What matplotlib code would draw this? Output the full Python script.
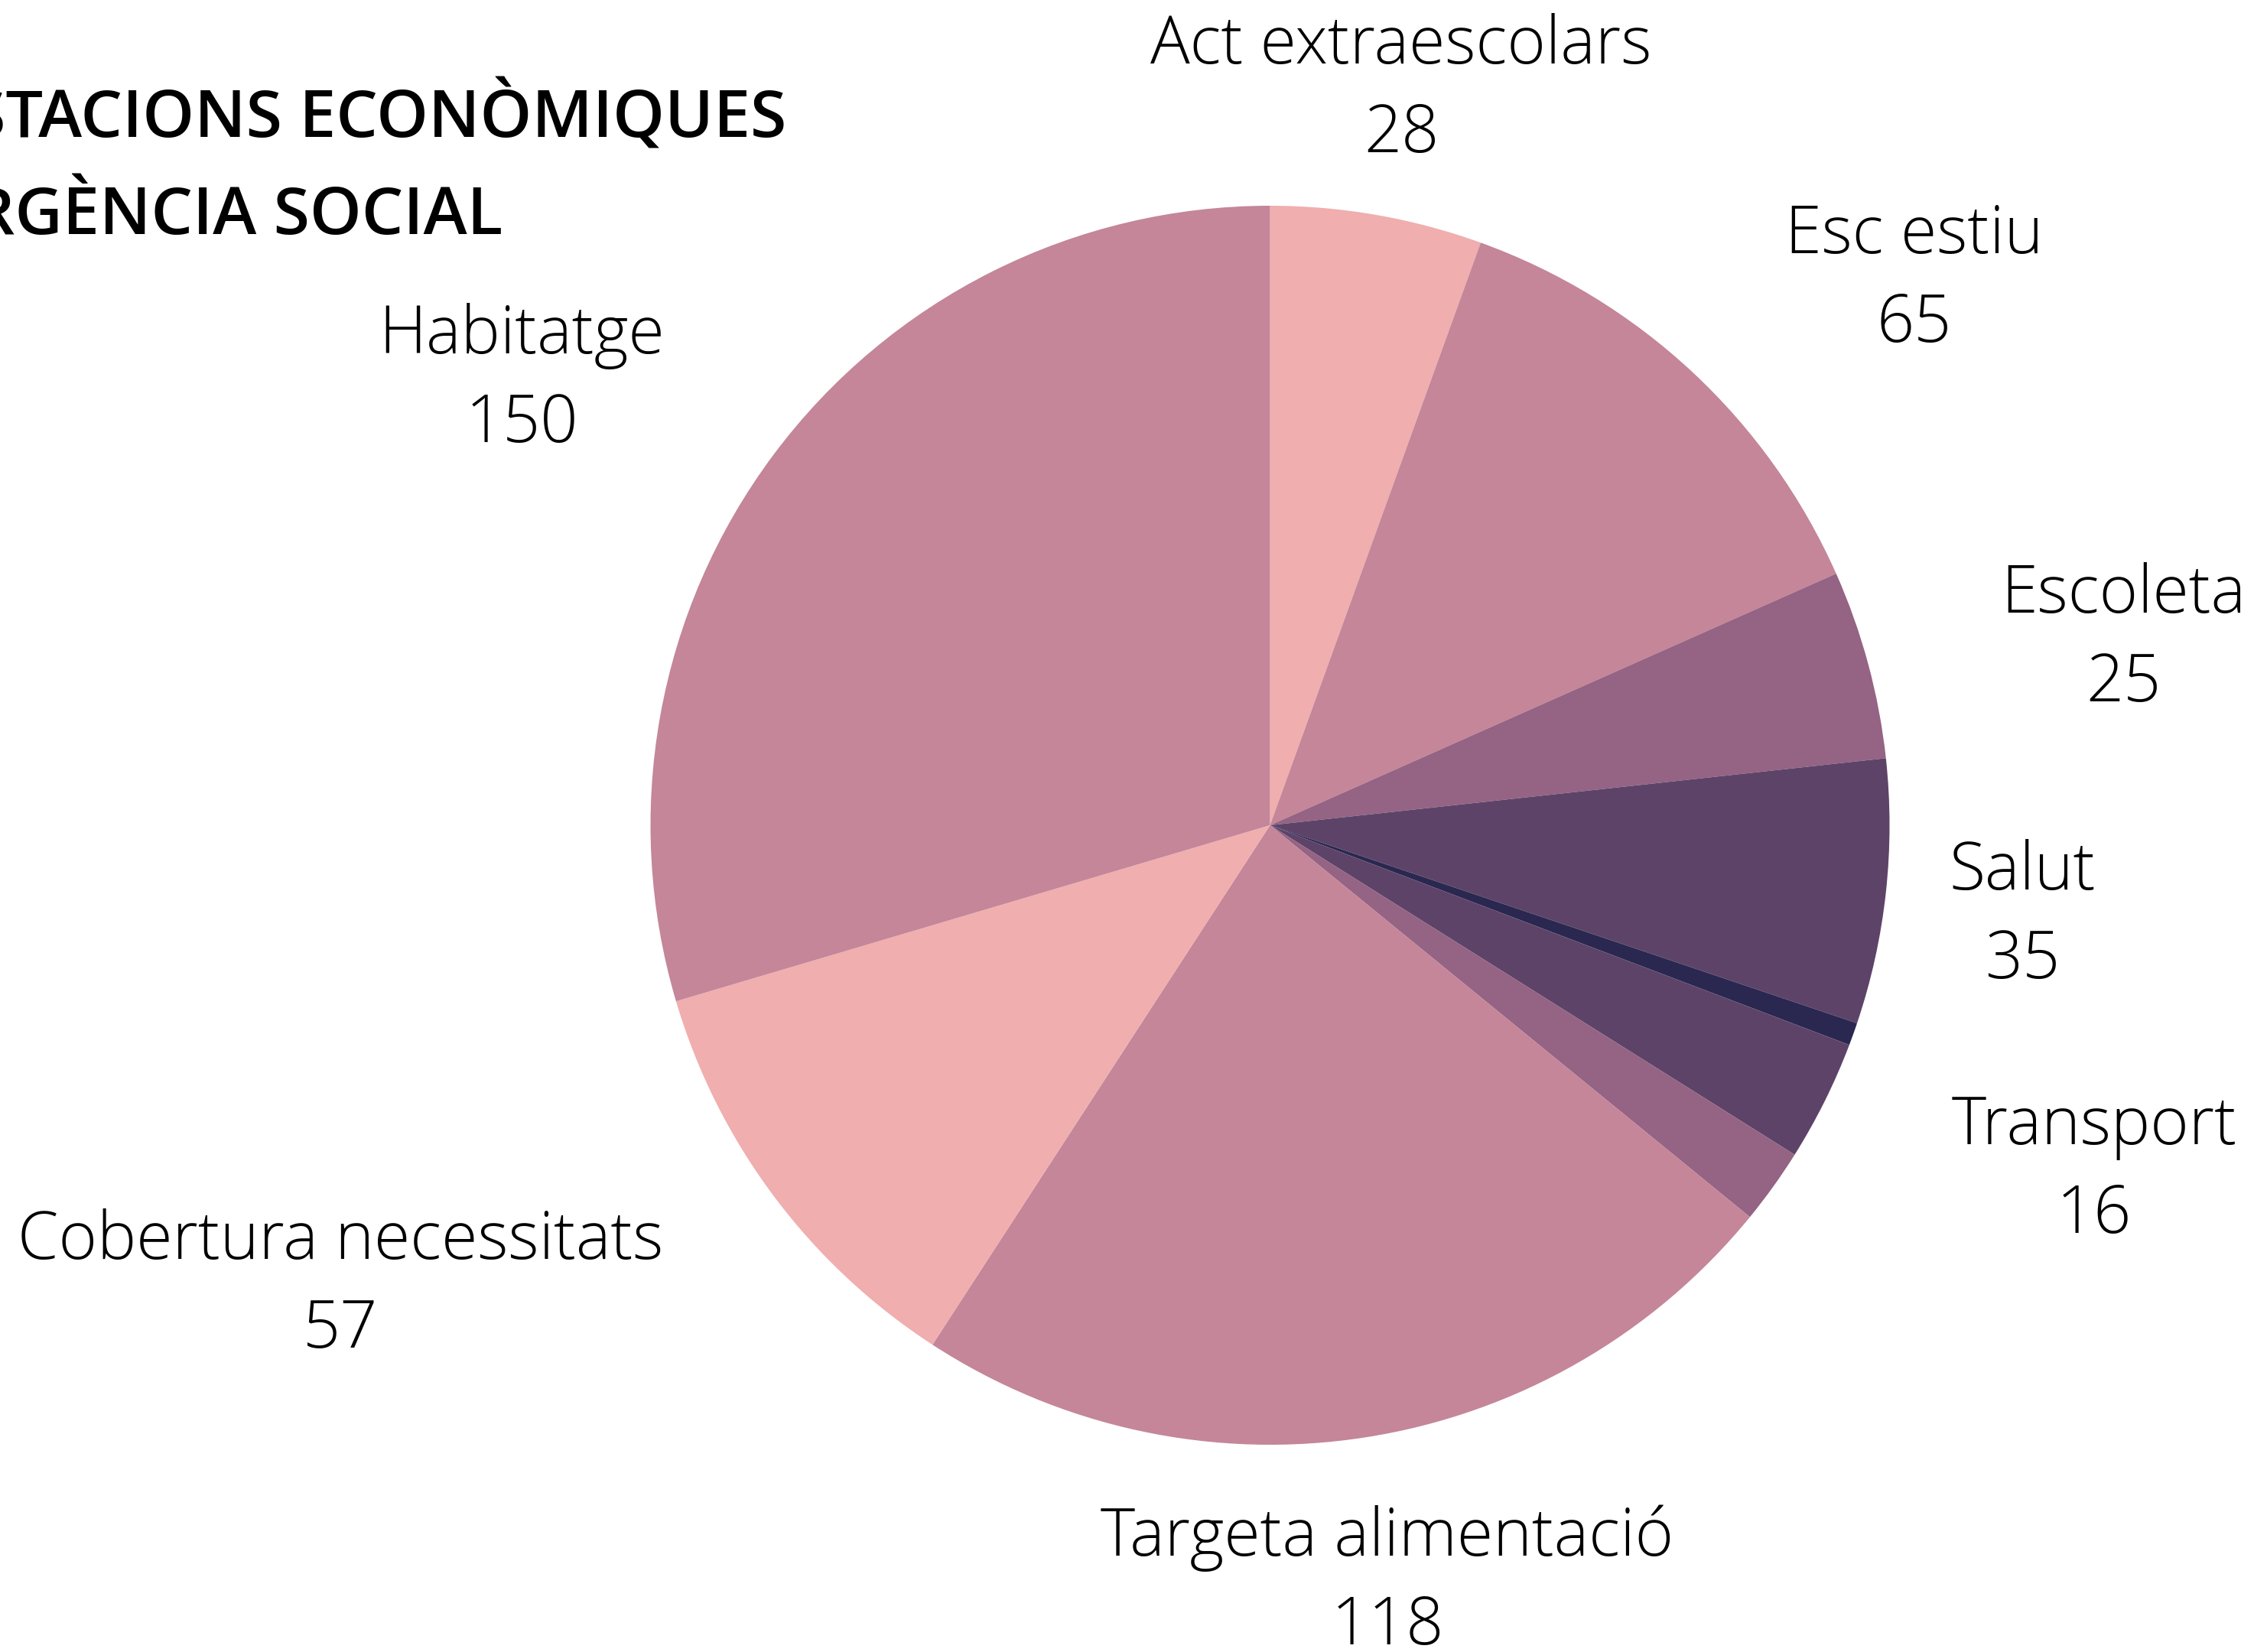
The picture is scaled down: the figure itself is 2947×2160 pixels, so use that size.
import matplotlib.pyplot as plt

# slices clockwise from 12 o'clock
labels = ["Act extraescolars", "Esc estiu", "Escoleta", "Salut", "",
          "Transport", "", "Targeta alimentació", "Cobertura necessitats", "Habitatge"]
values = [28, 65, 25, 35, 3, 16, 10, 118, 57, 150]
colors = ["#F0AEAF", "#C48698", "#956383", "#5E4369", "#2A2850",
          "#5E4369", "#956383", "#C48698", "#F0AEAF", "#C48698"]

title_lines = ["PRESTACIONS ECONÒMIQUES", "D'URGÈNCIA SOCIAL"]

W, H = 2947, 2160
cx, cy, r = 1660.5, 1079, 810

# label anchors (px in the image: centre x, baseline of the name)
label_pos = {
    "Act extraescolars": (1832, 83),
    "Esc estiu": (2503, 331),
    "Escoleta": (2776, 801),
    "Salut": (2644, 1163),
    "Transport": (2738, 1496),
    "Targeta alimentació": (1814, 2034),
    "Cobertura necessitats": (445, 1646),
    "Habitatge": (682, 462),
}

fig = plt.figure(figsize=(W / 200, H / 200), dpi=200)
ax = fig.add_axes([(cx - r) / W, (H - cy - r) / H, 2 * r / W, 2 * r / H])
ax.pie(values, colors=colors, startangle=90, counterclock=False,
       wedgeprops=dict(linewidth=0))
ax.set_xlim(-1, 1)
ax.set_ylim(-1, 1)
ax.axis("off")

font = dict(family="Open Sans", fontweight="light", fontsize=31, color="black")
for name, val in zip(labels, values):
    if not name:
        continue
    x, y = label_pos[name]
    fig.text(x / W, 1 - y / H, name, ha="center", va="baseline", **font)
    fig.text(x / W, 1 - (y + 116) / H, str(val), ha="center", va="baseline", **font)

# title is cropped at the left edge, as in the original
fig.text(1028 / W, 1 - 180 / H, title_lines[0], ha="right", va="baseline",
         family="Open Sans", fontweight="semibold", fontsize=31)
fig.text(657 / W, 1 - 306 / H, title_lines[1], ha="right", va="baseline",
         family="Open Sans", fontweight="semibold", fontsize=31)

fig.savefig("out.png", dpi=200, facecolor="white")
